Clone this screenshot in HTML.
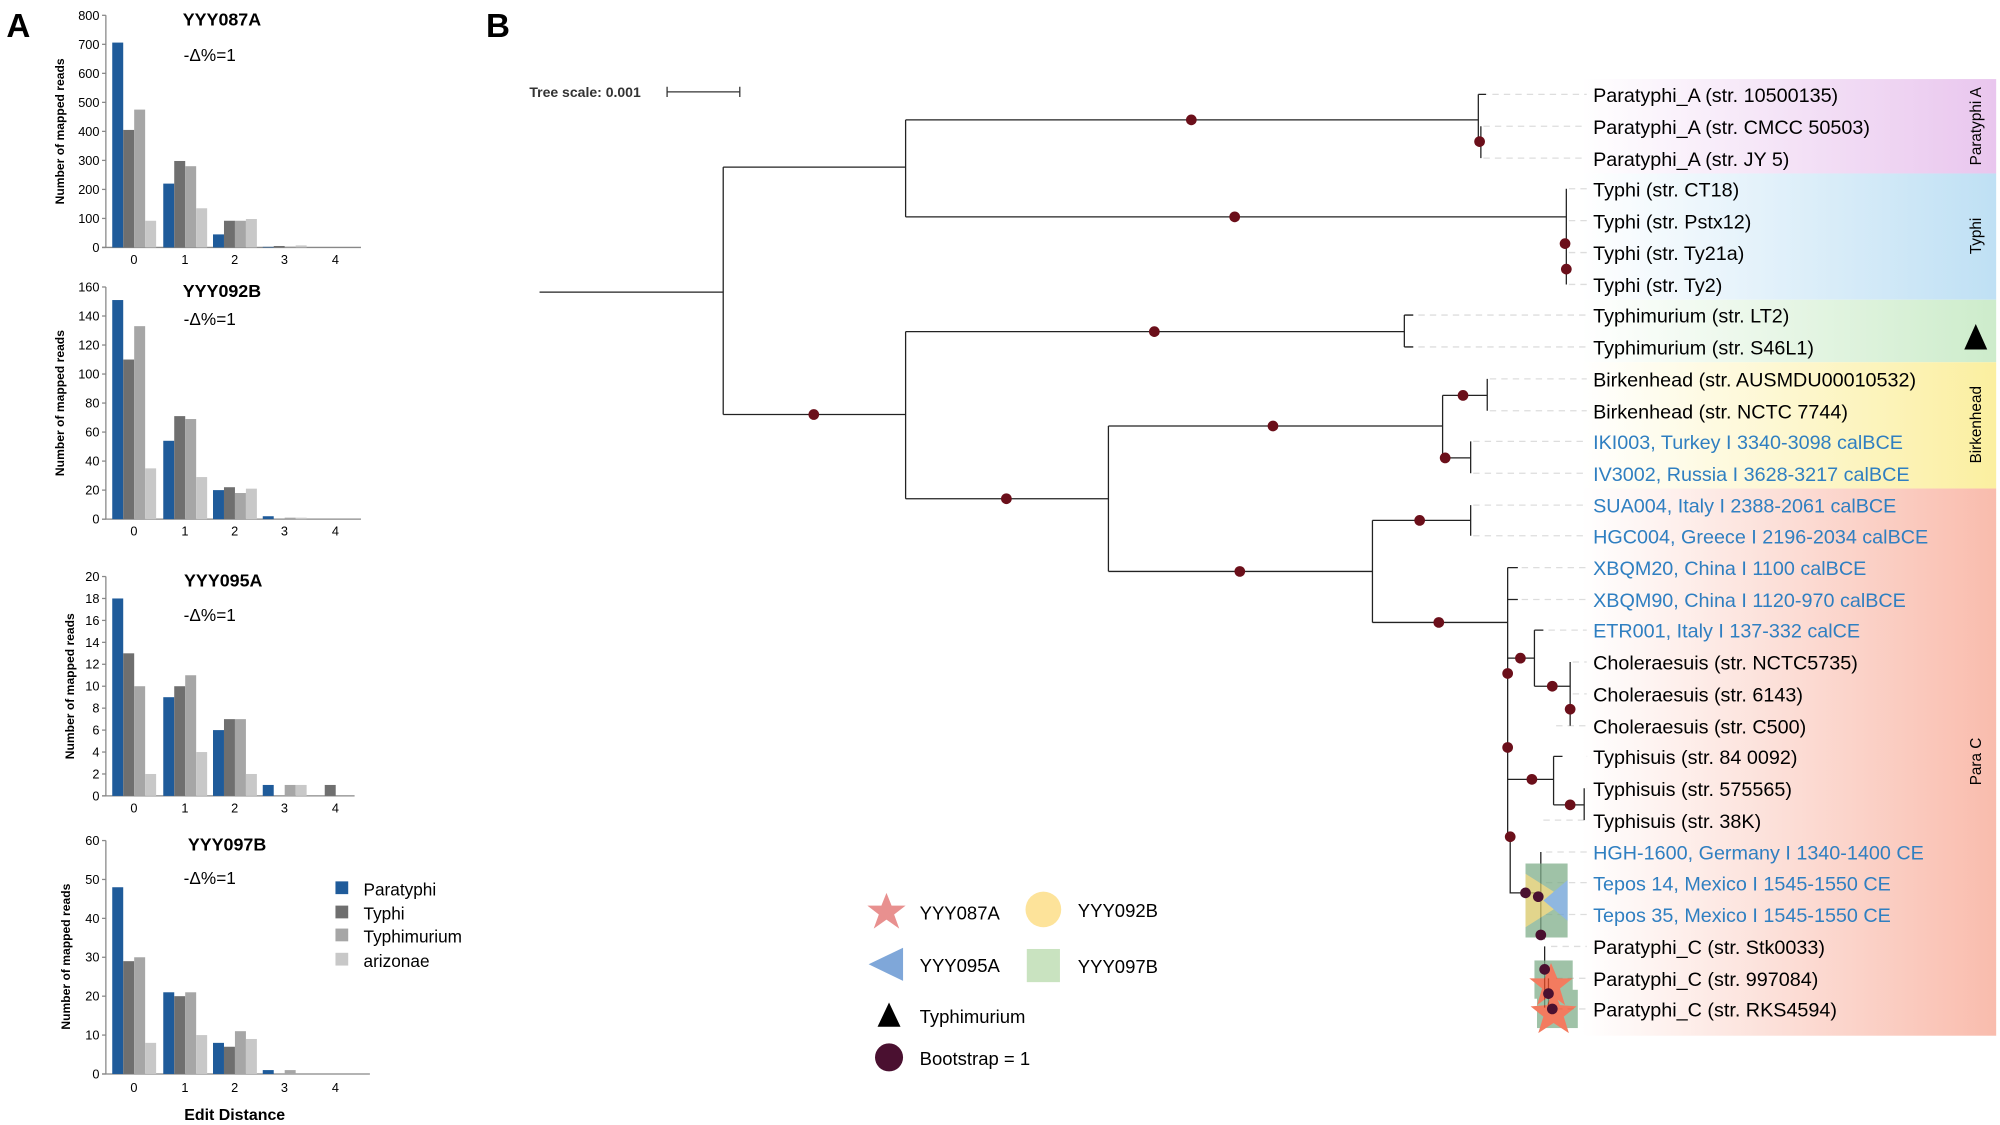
<!DOCTYPE html>
<html><head><meta charset="utf-8"><style>
html,body{margin:0;padding:0;background:#fff}
svg{display:block;font-family:"Liberation Sans",Arial,sans-serif}
.lf{font-size:15.5px}
.bl{fill:#2f7fc1}
</style></head><body>
<svg id="s" width="2000" height="1125" viewBox="0 0 1568 882" xmlns="http://www.w3.org/2000/svg">
<defs>
<linearGradient id="gP" x1="0" x2="1"><stop offset="0" stop-color="#fff"/><stop offset="1" stop-color="#e9c6ee"/></linearGradient>
<linearGradient id="gT" x1="0" x2="1"><stop offset="0" stop-color="#fff"/><stop offset="1" stop-color="#bfe0f4"/></linearGradient>
<linearGradient id="gM" x1="0" x2="1"><stop offset="0" stop-color="#fff"/><stop offset="1" stop-color="#cdeccb"/></linearGradient>
<linearGradient id="gB" x1="0" x2="1"><stop offset="0" stop-color="#fff"/><stop offset="1" stop-color="#fbefa0"/></linearGradient>
<linearGradient id="gC" x1="0" x2="1"><stop offset="0" stop-color="#fff"/><stop offset="1" stop-color="#f9bcad"/></linearGradient>
</defs>
<text x="5" y="29" font-size="26" font-weight="bold">A</text>
<text x="381" y="29" font-size="26" font-weight="bold">B</text>

<g id="bars"></g>
<g font-weight="bold" font-size="14" text-anchor="middle">
<text x="174" y="20">YYY087A</text><text x="174" y="233">YYY092B</text>
<text x="175" y="460">YYY095A</text><text x="178" y="667">YYY097B</text>
<text x="184" y="878" font-size="12.5">Edit Distance</text>
</g>
<g font-size="13.5"><text x="144" y="48">-Δ%=1</text><text x="144" y="255">-Δ%=1</text><text x="144" y="487">-Δ%=1</text><text x="144" y="693">-Δ%=1</text></g>
<g font-size="9.5" font-weight="bold" text-anchor="middle">
<text transform="translate(50,103) rotate(-90)">Number of mapped reads</text>
<text transform="translate(50,316) rotate(-90)">Number of mapped reads</text>
<text transform="translate(58,538) rotate(-90)">Number of mapped reads</text>
<text transform="translate(55,750) rotate(-90)">Number of mapped reads</text>
</g>
<g font-size="13.5">
<rect x="263" y="691" width="10" height="10" fill="#1f5b9a"/><text x="285" y="702">Paratyphi</text>
<rect x="263" y="710" width="10" height="10" fill="#6f6f6f"/><text x="285" y="721">Typhi</text>
<rect x="263" y="728" width="10" height="10" fill="#a6a6a6"/><text x="285" y="739">Typhimurium</text>
<rect x="263" y="747" width="10" height="10" fill="#c8c8c8"/><text x="285" y="758">arizonae</text>
</g>

<rect x="1240" y="62" width="325" height="74" fill="url(#gP)"/>
<rect x="1240" y="136" width="325" height="99" fill="url(#gT)"/>
<rect x="1240" y="235" width="325" height="49" fill="url(#gM)"/>
<rect x="1240" y="284" width="325" height="99" fill="url(#gB)"/>
<rect x="1240" y="383" width="325" height="429" fill="url(#gC)"/>
<g font-size="12" text-anchor="middle">
<text transform="translate(1553,99) rotate(-90)">Paratyphi A</text>
<text transform="translate(1553,185) rotate(-90)">Typhi</text>
<text transform="translate(1553,333) rotate(-90)">Birkenhead</text>
<text transform="translate(1553,597) rotate(-90)">Para C</text>
</g>
<polygon points="1549,254 1558,274 1540,274" fill="#000"/>

<text x="415" y="76" font-size="11" font-weight="bold" fill="#333">Tree scale: 0.001</text>
<path d="M523 72H580M523 68V76M580 68V76" stroke="#333" fill="none"/>

<g id="dash" stroke="#ddd" stroke-width="1" stroke-dasharray="5,4" fill="none"></g>
<g id="tree" stroke="#222" stroke-width="1" fill="none"></g>

<g opacity="0.75">
<rect x="1196" y="677" width="33" height="58" fill="#7fae8a"/>
<polygon points="1196,685 1229,706 1196,727" fill="#d9c866"/>
<polygon points="1229,690 1210,706 1229,722" fill="#6aa0d6"/>
<rect x="1203" y="753" width="30" height="30" fill="#7fae8a"/>
<rect x="1205" y="776" width="32" height="30" fill="#7fae8a"/>
<polygon points="1216,755 1221,767 1233,767 1223,775 1227,788 1216,780 1205,788 1209,775 1199,767 1211,767" fill="#f0502a"/>
<polygon points="1218,776 1223,788 1236,789 1226,797 1230,810 1218,802 1206,810 1210,797 1200,789 1213,788" fill="#f0502a"/>
</g>

<g class="lf">
<text x="1249" y="80">Paratyphi_A (str. 10500135)</text>
<text x="1249" y="105">Paratyphi_A (str. CMCC 50503)</text>
<text x="1249" y="130">Paratyphi_A (str. JY 5)</text>
<text x="1249" y="154">Typhi (str. CT18)</text>
<text x="1249" y="179">Typhi (str. Pstx12)</text>
<text x="1249" y="204">Typhi (str. Ty21a)</text>
<text x="1249" y="229">Typhi (str. Ty2)</text>
<text x="1249" y="253">Typhimurium (str. LT2)</text>
<text x="1249" y="278">Typhimurium (str. S46L1)</text>
<text x="1249" y="303">Birkenhead (str. AUSMDU00010532)</text>
<text x="1249" y="328">Birkenhead (str. NCTC 7744)</text>
<text x="1249" y="352" class="bl">IKI003, Turkey I 3340-3098 calBCE</text>
<text x="1249" y="377" class="bl">IV3002, Russia I 3628-3217 calBCE</text>
<text x="1249" y="402" class="bl">SUA004, Italy I 2388-2061 calBCE</text>
<text x="1249" y="426" class="bl">HGC004, Greece I 2196-2034 calBCE</text>
<text x="1249" y="451" class="bl">XBQM20, China I 1100 calBCE</text>
<text x="1249" y="476" class="bl">XBQM90, China I 1120-970 calBCE</text>
<text x="1249" y="500" class="bl">ETR001, Italy I 137-332 calCE</text>
<text x="1249" y="525">Choleraesuis (str. NCTC5735)</text>
<text x="1249" y="550">Choleraesuis (str. 6143)</text>
<text x="1249" y="575">Choleraesuis (str. C500)</text>
<text x="1249" y="599">Typhisuis (str. 84 0092)</text>
<text x="1249" y="624">Typhisuis (str. 575565)</text>
<text x="1249" y="649">Typhisuis (str. 38K)</text>
<text x="1249" y="674" class="bl">HGH-1600, Germany I 1340-1400 CE</text>
<text x="1249" y="698" class="bl">Tepos 14, Mexico I 1545-1550 CE</text>
<text x="1249" y="723" class="bl">Tepos 35, Mexico I 1545-1550 CE</text>
<text x="1249" y="748">Paratyphi_C (str. Stk0033)</text>
<text x="1249" y="773">Paratyphi_C (str. 997084)</text>
<text x="1249" y="797">Paratyphi_C (str. RKS4594)</text>
</g>
<g id="dots" fill="#6b0f1a"></g>

<polygon points="695,700 699,710 710,710 701,717 705,728 695,721 685,728 689,717 680,710 691,710" fill="#e8908f"/>
<circle cx="818" cy="713" r="14" fill="#fde39a"/>
<polygon points="681,756 708,743 708,769" fill="#7fa7d9"/>
<rect x="805" y="744" width="26" height="26" fill="#c9e3c0"/>
<polygon points="697,786 706,805 688,805" fill="#000"/>
<circle cx="697" cy="829" r="11" fill="#4a1030"/>
<g font-size="14.5">
<text x="721" y="721">YYY087A</text><text x="845" y="719">YYY092B</text>
<text x="721" y="762">YYY095A</text><text x="845" y="763">YYY097B</text>
<text x="721" y="802">Typhimurium</text><text x="721" y="835">Bootstrap = 1</text>
</g>
</svg>
<script>
var NS="http://www.w3.org/2000/svg";
function el(p,t,a){var e=document.createElementNS(NS,t);for(var k in a)e.setAttribute(k,a[k]);p.appendChild(e);return e;}
var B=document.getElementById("bars");
var cols=["#1f5b9a","#6f6f6f","#a6a6a6","#c8c8c8"];
var P=[
 {top:12,bot:194,max:800,step:100,ax:283,lab:207,d:[[706,405,475,92],[220,298,280,135],[45,92,92,98],[2,5,3,7],[0,0,0,0]]},
 {top:225,bot:407,max:160,step:20,ax:283,lab:420,d:[[151,110,133,35],[54,71,69,29],[20,22,18,21],[2,0,1,1],[0,0,0,0]]},
 {top:452,bot:624,max:20,step:2,ax:278,lab:637,d:[[18,13,10,2],[9,10,11,4],[6,7,7,2],[1,0,1,1],[0,1,0,0]]},
 {top:659,bot:842,max:60,step:10,ax:290,lab:856,d:[[48,29,30,8],[21,20,21,10],[8,7,11,9],[1,0,1,0],[0,0,0,0]]}];
var cx=[105,145,184,223,263];
P.forEach(function(p){
 var h=p.bot-p.top;
 el(B,"line",{x1:83,y1:p.top,x2:83,y2:p.bot,stroke:"#888"});
 el(B,"line",{x1:80,y1:p.bot,x2:p.ax,y2:p.bot,stroke:"#888"});
 for(var v=0;v<=p.max;v+=p.step){var y=p.bot-v/p.max*h;
  el(B,"line",{x1:80,y1:y,x2:83,y2:y,stroke:"#888"});
  var t=el(B,"text",{x:78,y:y+3.5,"text-anchor":"end","font-size":"10"});t.textContent=v;}
 p.d.forEach(function(g,i){g.forEach(function(v,j){var bh=v/p.max*h;
  el(B,"rect",{x:cx[i]-17+j*8.6,y:p.bot-bh,width:8.6,height:bh,fill:cols[j]});});
  var t=el(B,"text",{x:cx[i],y:p.lab,"text-anchor":"middle","font-size":"10"});t.textContent=i;});
});
var T=document.getElementById("tree"),D=document.getElementById("dash"),O=document.getElementById("dots");
function L(d){el(T,"path",{d:d});}
var R=[74,99,124,148,173,198,223,247,272,297,322,346,371,396,420,445,470,494,519,544,569,593,618,643,668,692,717,742,767,791];
R.forEach(function(y,i){var x=[1159,1161,1161,1228,1228,1228,1228,1101,1101,1166,1166,1153,1153,1153,1153,1182,1182,1203,1231,1231,1218,1242,1242,1208,1210,1210,1210,1214,1218,1218][i];
 el(D,"line",{x1:x+2,y1:y,x2:1244,y2:y});});
L("M423 229H567M567 131V325M567 131H710M710 94V170M710 94H1159M1159 74V111M1159 74H1165M1159 111H1161M1161 99V124M710 170H1228M1228 148V223");
L("M567 325H710M710 260V391M710 260H1101M1101 247V272M1101 247H1108M1101 272H1108M710 391H869M869 334V448M869 334H1131M1131 310V359M1131 310H1166M1166 297V322M1131 359H1153M1153 346V371");
L("M869 448H1076M1076 408V488M1076 408H1153M1153 396V420M1076 488H1182M1182 445V656M1182 445H1190M1182 470H1190M1182 516H1203M1203 494V538M1203 494H1210M1203 538H1231M1231 519V569M1182 611H1218M1218 593V631M1218 593H1225M1218 631H1242M1242 618V643");
L("M1184 656V700H1196M1196 700H1208M1208 668V736M1208 736H1211M1211 742V790M1211 761H1214M1214 767V791");
[[934,94],[968,170],[1160,111],[1227,191],[1228,211],[905,260],[638,325],[998,334],[1147,310],[1133,359],[789,391],[972,448],[1113,408],[1128,488],[1192,516],[1182,528],[1217,538],[1231,556],[1182,586],[1201,611],[1231,631],[1184,656],[1196,700],[1206,703],[1208,733],[1211,760],[1214,779],[1217,791]].forEach(function(c){
 el(O,"circle",{cx:c[0],cy:c[1],r:4.2,fill:c[0]>1190&&c[1]>690?"#4a1030":"#6b0f1a"});});
</script>
</body></html>
